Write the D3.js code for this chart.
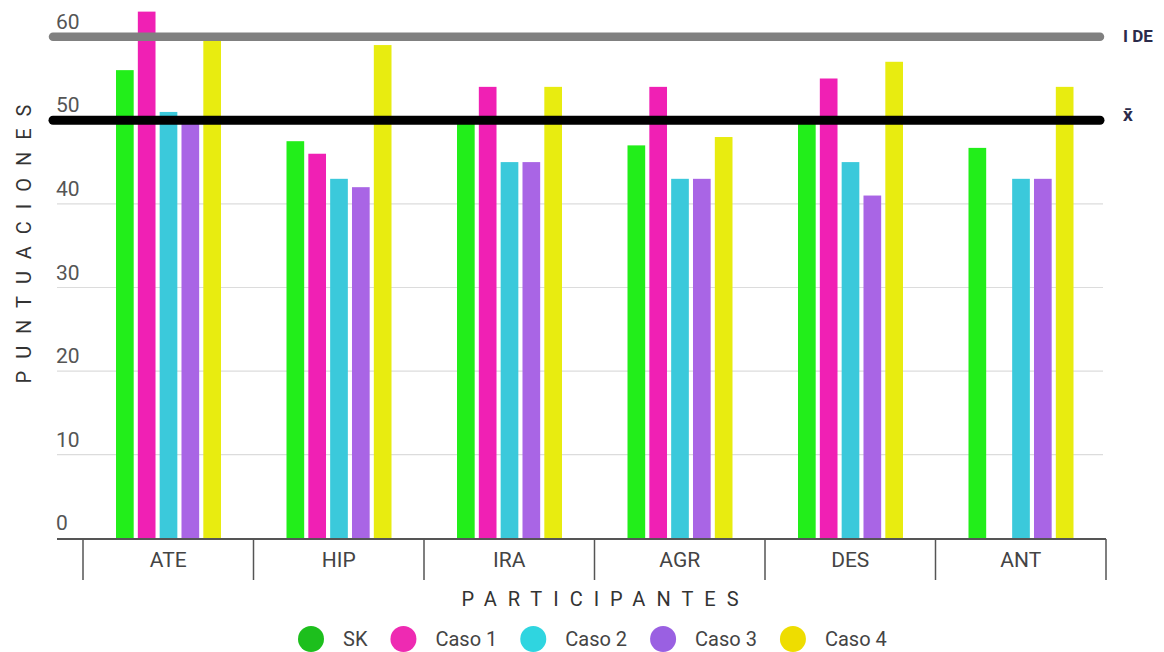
<!DOCTYPE html>
<html><head><meta charset="utf-8">
<script src="https://cdn.jsdelivr.net/npm/d3@7"></script>
<style>html,body{margin:0;padding:0;background:#fff}svg{display:block}</style>
</head><body>
<script>
const categories = ["ATE","HIP","IRA","AGR","DES","ANT"];
const seriesNames = ["SK","Caso 1","Caso 2","Caso 3","Caso 4"];
const SK    = [56, 47.5, 50, 47, 50, 46.7];
const caso1 = [63, 46, 54, 54, 55, null];
const caso2 = [51, 43, 45, 43, 45, 43];
const caso3 = [50, 42, 45, 43, 41, 43];
const caso4 = [59.5, 59, 54, 48, 57, 54];
const yTicks = [0,10,20,30,40,50,60];
const refLines = [{value:60,label:"I DE"},{value:50,label:"x\u0304"}];

const seriesValues = [SK, caso1, caso2, caso3, caso4];
const barColors = ["#22ee1a","#f020b4","#3bc9db","#a965e5","#e8ec10"];
const legendColors = ["#1dbf1d","#ee2ab2","#2fd5e0","#9a60e2","#eedd00"];
const refStyles = [{color:"#808080",w:8.5},{color:"#000000",w:9}];

const W=1164,H=652;
const svg=d3.select("body").append("svg").attr("width",W).attr("height",H);
const font="Roboto, 'Noto Sans', sans-serif";

const y=d3.scaleLinear().domain([0,60]).range([538.3,36.7]);
const x0=d3.scaleBand().domain(categories).range([83,1106]).padding(0);
const x1=d3.scaleBand().domain(seriesNames).range([33,138]).paddingInner(0.19);

// gridlines
svg.append("g").selectAll("line").data(yTicks.filter(t=>t>0)).join("line")
  .attr("x1",57).attr("x2",1103).attr("y1",d=>y(d)).attr("y2",d=>y(d))
  .attr("stroke","#dcdcdc").attr("stroke-width",1.2);

// y labels
svg.append("g").selectAll("text").data(yTicks).join("text")
  .attr("x",56).attr("y",d=>y(d)-8).text(d=>d)
  .attr("font-family",font).attr("font-size",21).attr("fill","#555");

// bars
const rows=[];
categories.forEach((c,i)=>seriesNames.forEach((s,j)=>{
  const v=seriesValues[j][i]; if(v!=null) rows.push({c,s,v,j});
}));
svg.append("g").selectAll("rect").data(rows).join("rect")
  .attr("x",d=>x0(d.c)+x1(d.s)).attr("width",x1.bandwidth())
  .attr("y",d=>y(d.v)).attr("height",d=>y(0)-y(d.v))
  .attr("fill",d=>barColors[d.j]);

// reference lines
refLines.forEach((r,i)=>{
  svg.append("line").attr("x1",53).attr("x2",1100)
    .attr("y1",y(r.value)).attr("y2",y(r.value))
    .attr("stroke",refStyles[i].color).attr("stroke-width",refStyles[i].w)
    .attr("stroke-linecap","round");
  svg.append("text").attr("x",1123).attr("y",y(r.value)+(i==0?5:1))
    .text(r.label).attr("font-family",font).attr("font-weight","bold")
    .attr("font-size",17).attr("fill","#2b2b4b");
});

// x axis
svg.append("line").attr("x1",57).attr("x2",1106).attr("y1",539).attr("y2",539)
  .attr("stroke","#555").attr("stroke-width",2.2);
const bounds=categories.map(c=>x0(c)).concat([x0.range()[1]]);
svg.append("g").selectAll("line").data(bounds).join("line")
  .attr("x1",d=>d).attr("x2",d=>d).attr("y1",539).attr("y2",580)
  .attr("stroke","#555").attr("stroke-width",1.5);
svg.append("g").selectAll("text").data(categories).join("text")
  .attr("x",d=>x0(d)+x0.bandwidth()/2).attr("y",567).attr("text-anchor","middle")
  .text(d=>d).attr("font-family",font).attr("font-size",21).attr("fill","#444");

// axis titles
svg.append("text").attr("x",600+5.5).attr("y",606).attr("text-anchor","middle")
  .attr("letter-spacing",11).text("PARTICIPANTES")
  .attr("font-family",font).attr("font-size",20).attr("fill","#333");
svg.append("text").attr("transform","translate(31,244) rotate(-90)")
  .attr("text-anchor","middle").attr("dx",6).attr("letter-spacing",12)
  .text("PUNTUACIONES").attr("font-family",font).attr("font-size",20).attr("fill","#333");

// legend
const lg=svg.append("g");
let cx=311;
seriesNames.forEach((s,i)=>{
  lg.append("circle").attr("cx",cx).attr("cy",639).attr("r",13).attr("fill",legendColors[i]);
  const t=lg.append("text").attr("x",cx+32).attr("y",646).text(s)
    .attr("font-family",font).attr("font-size",20).attr("fill","#444");
  const w=t.node().getComputedTextLength();
  cx=cx+32+w+36;
});
</script>
</body></html>
